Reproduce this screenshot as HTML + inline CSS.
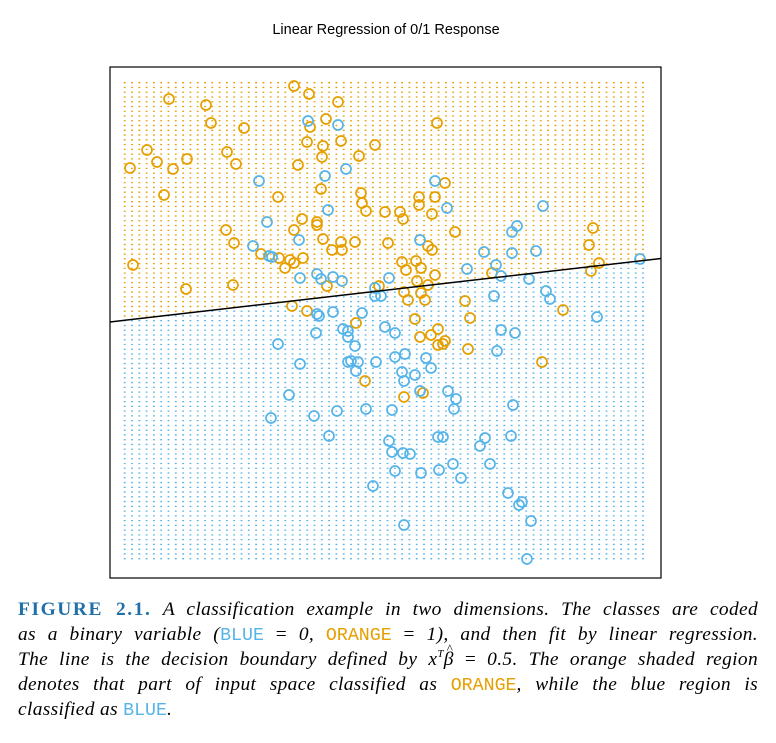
<!DOCTYPE html>
<html><head><meta charset="utf-8">
<style>
body{margin:0;background:#fff;width:776px;height:743px;overflow:hidden;position:relative}
#title{position:absolute;left:0;width:772px;top:22px;text-align:center;font:14.5px "Liberation Sans",sans-serif;color:#000}
svg{position:absolute;left:0;top:0}
.cap{position:absolute;left:18px;width:740px;font:italic 19.4px "Liberation Serif",serif;letter-spacing:0.35px;color:#000;text-align:justify;text-align-last:justify;white-space:nowrap;line-height:22px;height:22px}
.fig{font-style:normal;font-weight:bold;color:#1f6fa8;letter-spacing:1.6px}
.mb{font:normal 18.3px "Liberation Mono",monospace;letter-spacing:0;color:#56B4E9}
.mo{font:normal 18.3px "Liberation Mono",monospace;letter-spacing:0;color:#E69F00}
.up{font-size:11px;position:relative;top:-8px;font-style:italic}
.hat{position:relative;display:inline-block}
.hat::after{content:"^";position:absolute;left:3px;top:-11px;font-style:normal;font-size:13px}
</style></head><body>
<div id="title">Linear Regression of 0/1 Response</div>
<svg id="chart" width="776" height="600"></svg>
<div class="cap" style="top:599px"><span class="fig">FIGURE 2.1.</span> A classification example in two dimensions. The classes are coded</div>
<div class="cap" style="top:624px">as a binary variable (<span class="mb">BLUE</span> <span style="font-style:normal">=</span> 0, <span class="mo">ORANGE</span> <span style="font-style:normal">=</span> 1), and then fit by linear regression.</div>
<div class="cap" style="top:649px">The line is the decision boundary defined by <i>x</i><span class="up">T</span><span class="hat">β</span> <span style="font-style:normal">=</span> 0.5. The orange shaded region</div>
<div class="cap" style="top:674px">denotes that part of input space classified as <span class="mo">ORANGE</span>, while the blue region is</div>
<div class="cap" style="top:699px;text-align-last:left">classified as <span class="mb">BLUE</span>.</div>
<script>
// data coordinates: x in [110,661] (left→right), y in [67,578] (top→bottom)
const orangeX=[294,309,169,206,338,211,244,326,310,307,341,323,322,375,359,147,227,157,187,236,173,130,298,321,164,278,361,362,366,385,302,317,317,226,294,234,323,341,355,388,332,342,261,279,290,294,303,285,133,327,233,186,379,292,307,356,437,445,419,435,419,400,403,432,455,428,432,402,416,406,421,435,417,428,404,421,408,425,492,465,415,470,593,589,599,591,563,365,420,431,438,438,445,443,468,542,404,423];
const orangeY=[86,94,99,105,102,123,128,119,127,142,141,146,157,145,156,150,152,162,159,164,169,168,165,189,195,197,193,203,211,212,219,222,225,230,230,243,239,242,242,243,250,250,254,258,260,263,258,268,265,286,285,289,286,306,311,323,123,183,197,197,205,212,219,214,232,246,250,262,261,270,268,275,281,285,292,293,300,300,273,301,319,318,228,245,263,271,310,381,337,335,329,345,341,344,349,362,397,393];
const blueX=[308,338,346,325,259,328,267,299,253,269,272,300,317,321,333,342,389,375,375,381,317,319,333,362,435,447,420,543,517,512,484,512,536,467,496,501,529,494,546,550,597,640,316,343,348,348,278,355,300,348,351,358,356,376,385,289,271,314,337,366,329,373,395,501,515,497,395,405,426,431,402,415,404,420,448,456,454,392,513,438,443,389,485,480,511,392,403,410,395,421,439,453,461,490,508,519,522,531,404,527];
const blueY=[121,125,169,176,181,210,222,240,246,256,257,278,274,279,277,281,278,288,296,296,314,316,312,313,181,208,240,206,226,232,252,253,251,269,265,276,279,296,291,299,317,259,333,329,331,337,344,346,364,362,361,362,371,362,327,395,418,416,411,409,436,486,333,330,333,351,357,354,358,368,372,375,381,391,391,399,409,410,405,437,437,441,438,446,436,452,453,454,471,473,470,464,478,464,493,505,502,521,525,559];
const boundaryX=[110,661];
const boundaryY=[322,258.5];
</script>
<script>
const svg=document.getElementById('chart');
const NS='http://www.w3.org/2000/svg';
const L=110,T=67,W=551,H=511;
const sx=v=>L+(v-110)/551*W, sy=v=>T+(v-67)/511*H;
function mk(tag,attrs){const e=document.createElementNS(NS,tag);for(const k in attrs)e.setAttribute(k,attrs[k]);svg.appendChild(e);return e;}
const bslope=(boundaryY[1]-boundaryY[0])/(boundaryX[1]-boundaryX[0]);
const by=x=>boundaryY[0]+bslope*(x-boundaryX[0]);
const g=document.createElementNS(NS,'g');svg.appendChild(g);


let so='',sb='';
for(let i=0;i<=71;i++){for(let j=0;j<=100;j++){
 const px=124.7+i*7.3, py=82.7+j*4.76;
 const r=`M${px-0.9},${py}h1.8`;
 if(py<sy(by(px))) so+=r; else sb+=r;
}}
const po=document.createElementNS(NS,'path');po.setAttribute('d',so);po.setAttribute('stroke','#E69F00');po.setAttribute('stroke-width','1.3');g.appendChild(po);
const pb=document.createElementNS(NS,'path');pb.setAttribute('d',sb);pb.setAttribute('stroke','#56B4E9');pb.setAttribute('stroke-width','1.3');g.appendChild(pb);
const fr=mk('rect',{x:L,y:T,width:W,height:H,fill:'none',stroke:'#000','stroke-width':1.2});


for(let i=0;i<orangeX.length;i++){
 const c=mk('circle',{cx:sx(orangeX[i]),cy:sy(orangeY[i]),r:5,fill:'none',stroke:'#E69F00','stroke-width':1.7});
 
 
}
for(let i=0;i<blueX.length;i++){
 const c=mk('circle',{cx:sx(blueX[i]),cy:sy(blueY[i]),r:5,fill:'none',stroke:'#56B4E9','stroke-width':1.7});
 
 
}
const ln=mk('line',{x1:sx(boundaryX[0]),y1:sy(boundaryY[0]),x2:sx(boundaryX[1]),y2:sy(boundaryY[1]),stroke:'#000','stroke-width':1.5});


</script>
</body></html>
